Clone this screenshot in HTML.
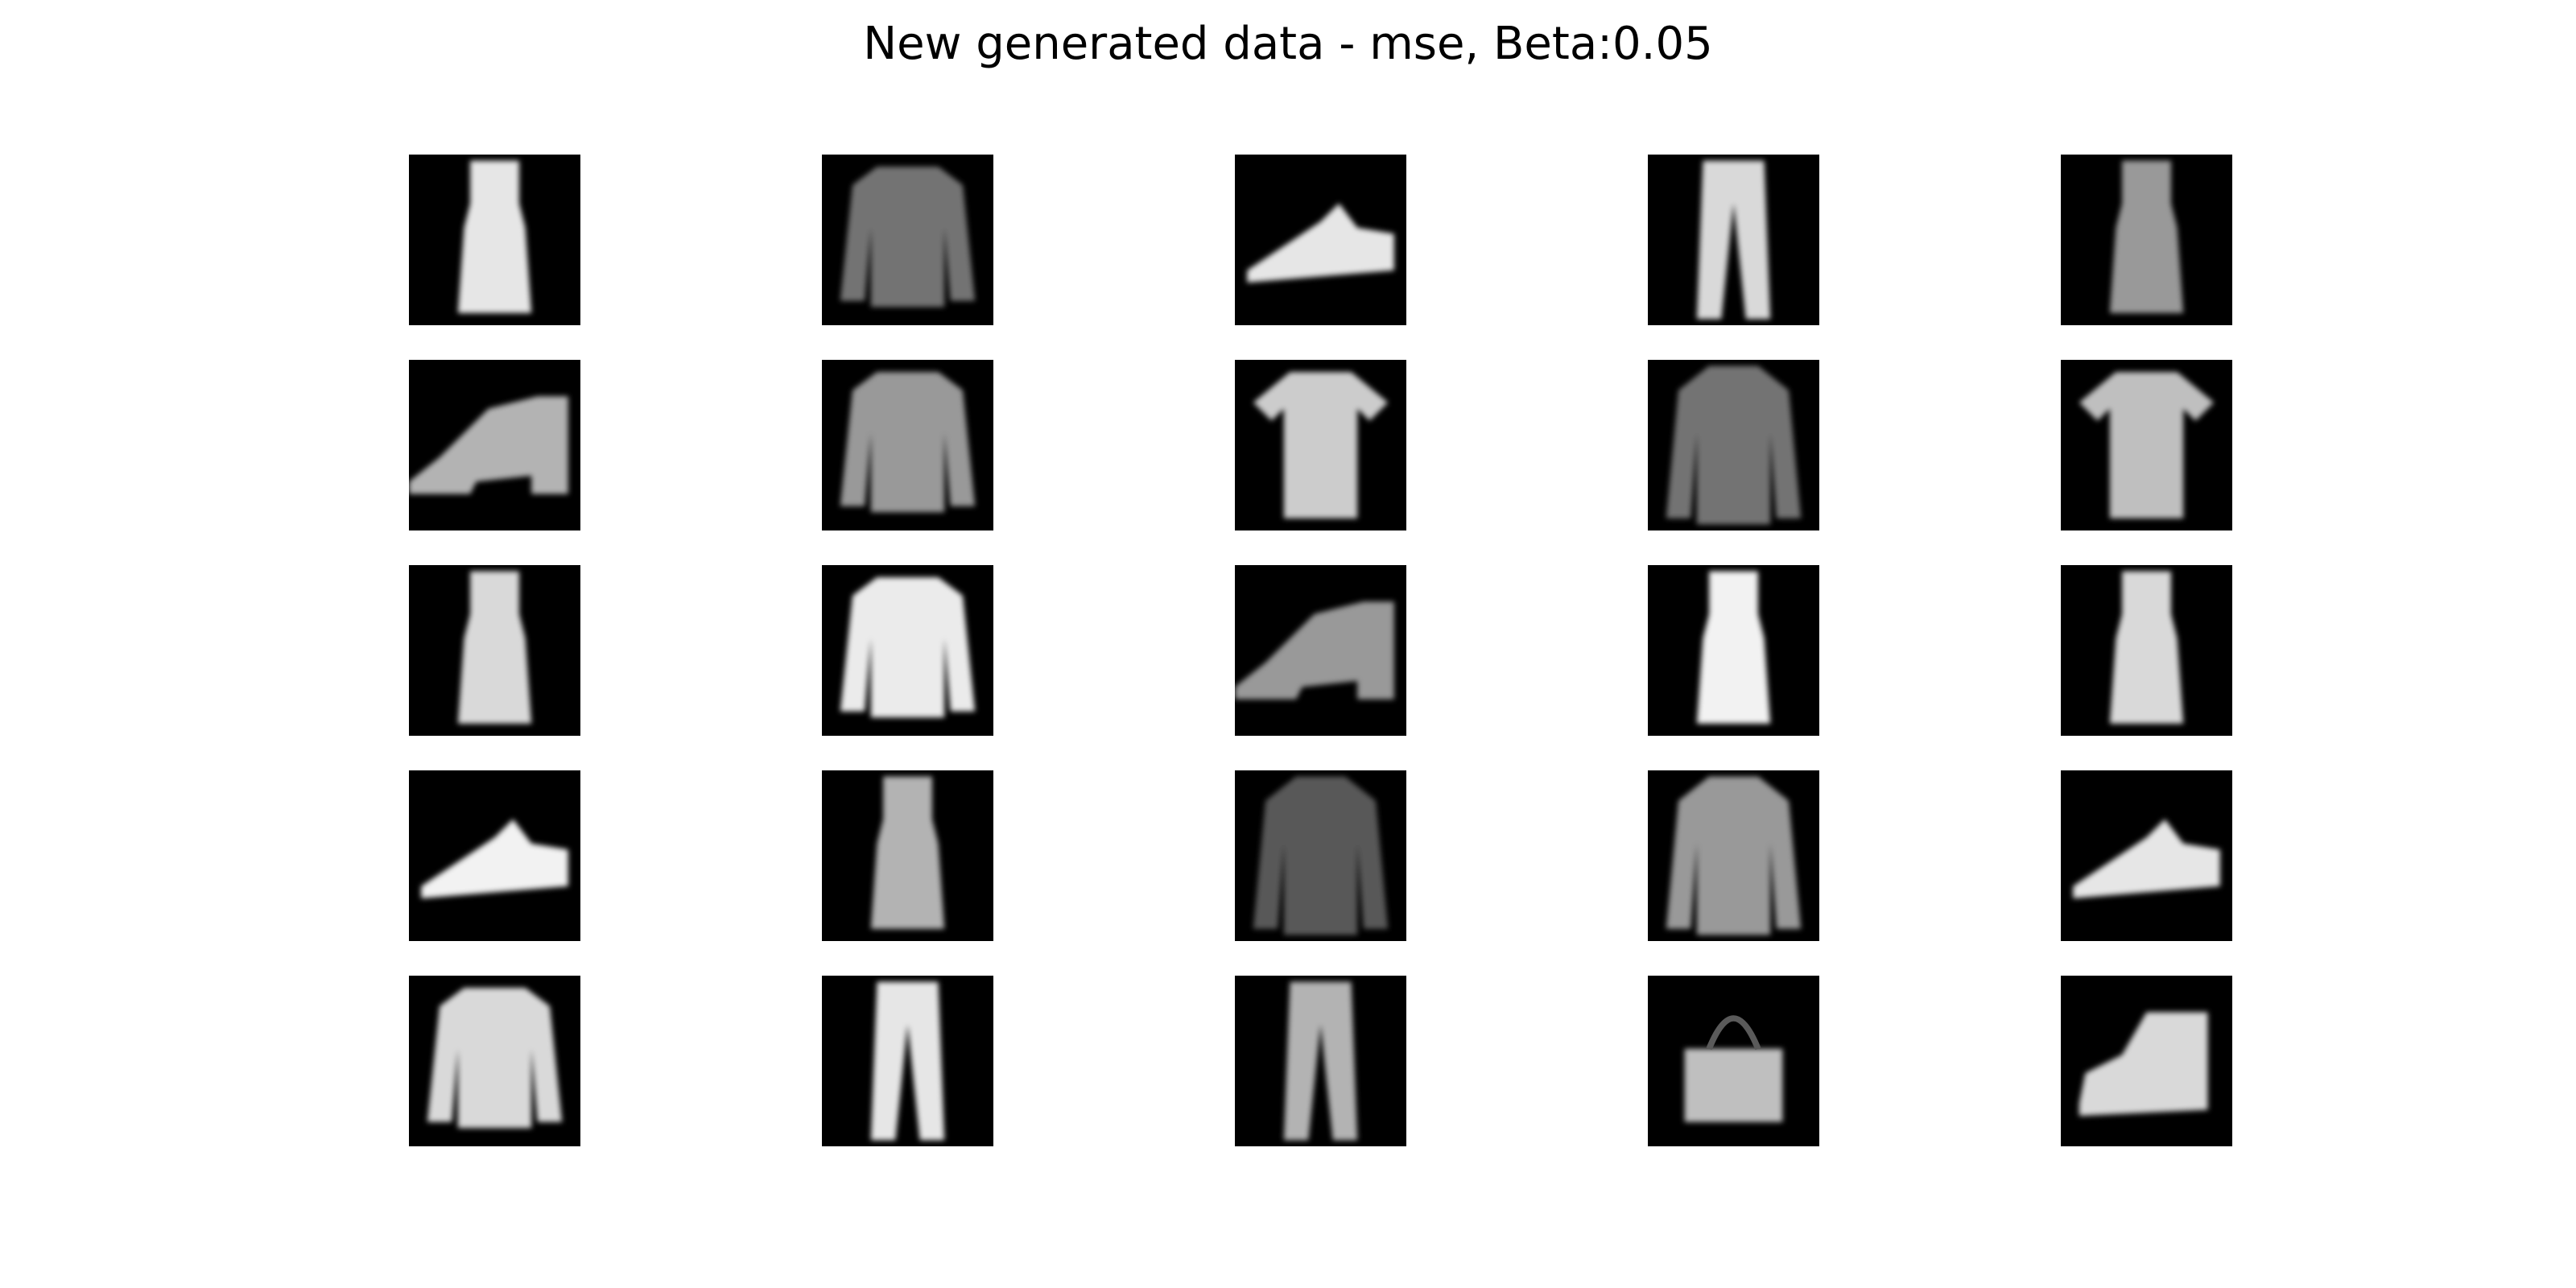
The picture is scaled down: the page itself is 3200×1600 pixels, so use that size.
<!DOCTYPE html>
<html><head><meta charset="utf-8">
<style>
html,body{margin:0;padding:0;background:#fff;}
#fig{position:relative;width:3200px;height:1600px;background:#fff;overflow:hidden;}
#title{position:absolute;left:0;width:3200px;top:22px;text-align:center;font-family:"DejaVu Sans","Liberation Sans",sans-serif;font-size:56px;color:#000;line-height:66px;}
svg.tile{position:absolute;width:213px;height:212px;background:#000;}
</style></head><body>
<div id="fig">
<div id="title">New generated data - mse, Beta:0.05</div>
</div>
<script>
const itemTypes = ["dress","pullover","sneaker","trouser","dress",
 "heel","pullover","tshirt","coat","tshirt",
 "dress","pullover","heel","dress","dress",
 "sneaker","dress","coat","coat","sneaker",
 "pullover","trouser","trouser","bag","boot"];
const itemBrightness = [0.9,0.45,0.9,0.85,0.6,
 0.7,0.6,0.8,0.45,0.75,
 0.85,0.92,0.6,0.95,0.85,
 0.95,0.7,0.35,0.6,0.9,
 0.85,0.9,0.7,0.75,0.85];
const shapes = {
 dress:["polygon","10,1 18,1 18,8 19,12 20,26 8,26 9,12 10,8"],
 pullover:["polygon","9,2 19,2 23,5 25,24 21,24 20,12 20,25 8,25 8,12 7,24 3,24 5,5"],
 tshirt:["polygon","9,2 19,2 25,7 22,10 20,8 20,26 8,26 8,8 6,10 3,7"],
 coat:["polygon","10,1 18,1 23,5 25,26 21,26 20,12 20,27 8,27 8,12 7,26 3,26 5,5"],
 sneaker:["polygon","2,19 8,15 14,11 17,8 20,12 26,13 26,19 2,21"],
 trouser:["polygon","9,1 19,1 20,27 16,27 14,8 12,27 8,27"],
 bag:["polygon","6,12 22,12 22,24 6,24"],
 boot:["polygon","3,21 4,16 10,13 14,6 24,6 24,22 3,23"],
 heel:["polygon","0,20 5,16 13,8 21,6 26,6 26,22 20,22 20,19 11,20 10,22 0,22"]
};
const fig = document.getElementById('fig');
const NS = "http://www.w3.org/2000/svg";
function colX(c){return 508 + c*513;}
function rowY(r){return 192 + r*255;}
itemTypes.forEach((t,i)=>{
  const r = Math.floor(i/5), c = i%5;
  const svg = document.createElementNS(NS,'svg');
  svg.setAttribute('class','tile');
  svg.setAttribute('viewBox','0 0 28 28');
  svg.setAttribute('preserveAspectRatio','none');
  svg.style.left = colX(c)+'px';
  svg.style.top = rowY(r)+'px';
  
  
  const defs = document.createElementNS(NS,'defs');
  defs.innerHTML = '<filter id="b'+i+'" x="-20%" y="-20%" width="140%" height="140%"><feGaussianBlur stdDeviation="0.45"/></filter>';
  svg.appendChild(defs);
  const s = shapes[t];
  const el = document.createElementNS(NS,s[0]);
  el.setAttribute('points',s[1]);
  const g = Math.round(255*itemBrightness[i]);
  el.setAttribute('fill','rgb('+g+','+g+','+g+')');
  el.setAttribute('filter','url(#b'+i+')');
  
  
  svg.appendChild(el);
  if(t==='bag'){
    const h = document.createElementNS(NS,'path');
    h.setAttribute('d','M10,12 Q14,2 18,12');
    h.setAttribute('stroke','rgb(90,90,90)');
    h.setAttribute('fill','none');
    h.setAttribute('stroke-width','1');
    
    
    svg.appendChild(h);
  }
  fig.appendChild(svg);
});
</script>
</body></html>
